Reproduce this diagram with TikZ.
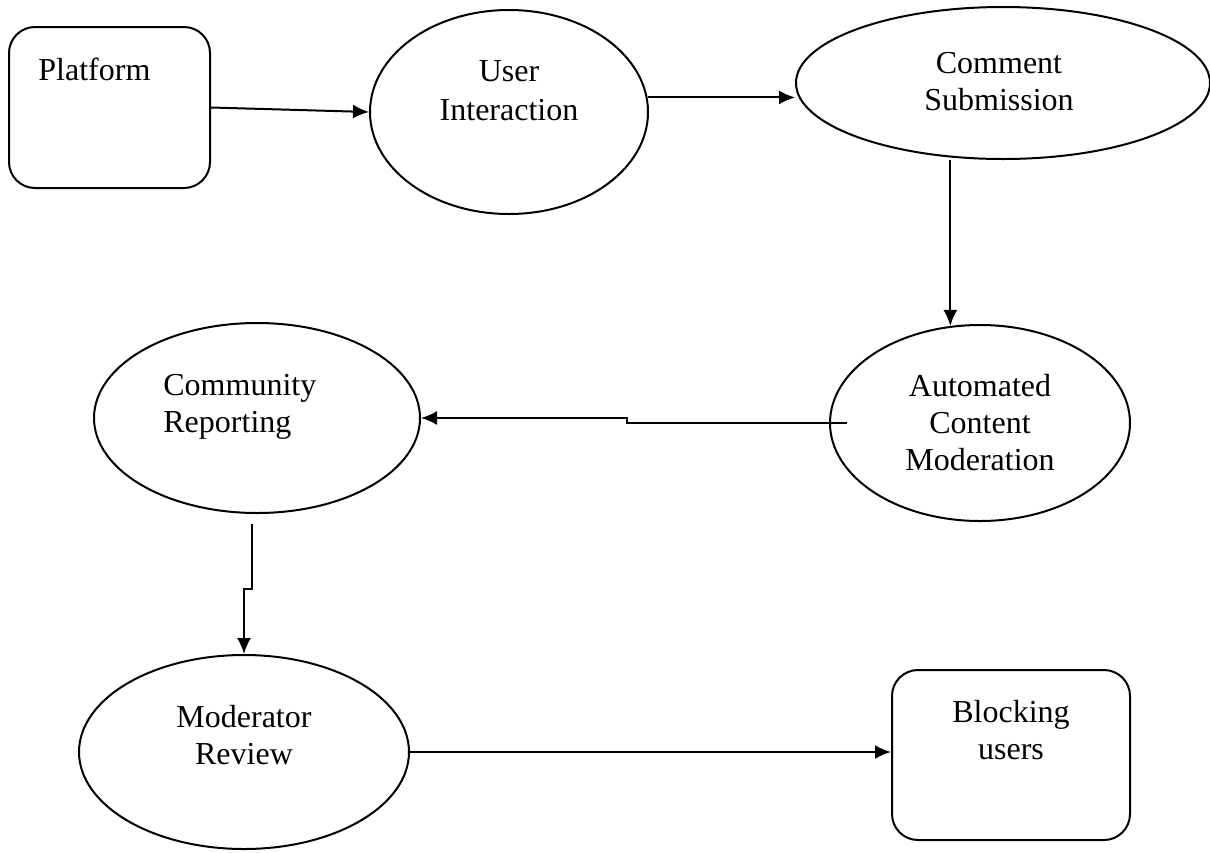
\documentclass[tikz,border=0pt]{standalone}
\usepackage{fontspec}
\setmainfont{Liberation Serif}
\usetikzlibrary{shapes.geometric,arrows.meta}
\begin{document}
\begin{tikzpicture}[x=0.5pt,y=-0.5pt,
  box/.style={draw,line width=1pt,rounded corners=13pt,inner sep=0pt},
  bubble/.style={draw,line width=1pt,ellipse,inner sep=0pt},
  lbl/.style={inner sep=0pt,align=center,font=\fontsize{16}{18.5}\selectfont},
  flow/.style={-{Latex[length=8pt,width=7pt]},line width=1pt}]
\useasboundingbox (0,0) rectangle (1210,852);
% shapes
\node[box,minimum width=100.5pt,minimum height=80.5pt] (platform) at (109.5,107.5) {};
\node[bubble,minimum width=139pt,minimum height=102pt] (user) at (509,112) {};
\node[bubble,minimum width=207pt,minimum height=76pt] (comment) at (1003,83) {};
\node[bubble,minimum width=150pt,minimum height=98pt] (auto) at (980,423) {};
\node[bubble,minimum width=163pt,minimum height=95pt] (comm) at (257,418) {};
\node[bubble,minimum width=165pt,minimum height=97pt] (mod) at (244,752) {};
\node[box,minimum width=119pt,minimum height=85pt] (block) at (1011,755) {};
% texts
\node[lbl,anchor=north west] (platformtxt) at (38,58) {Platform};
\node[lbl,anchor=north,font=\fontsize{16}{19.5}\selectfont] (usertxt) at (509,60) {User\\Interaction};
\node[lbl,anchor=north] (commenttxt) at (999,52) {Comment\\Submission};
\node[lbl,anchor=north] (autotxt) at (980,374) {Automated\\Content\\Moderation};
\node[lbl,anchor=north west,align=left] (commtxt) at (163,374) {Community\\Reporting};
\node[lbl,anchor=north] (modtxt) at (244,705) {Moderator\\Review};
\node[lbl,anchor=north] (blocktxt) at (1011,700) {Blocking\\users};
% connectors
\draw[flow] (platform.east) -- (user.west);
\draw[flow] (user.6) -- (user.6 -| comment.west);
\draw[flow] (auto.107 |- comment.south) -- (auto.107);
\draw[flow] ([xshift=9pt]auto.west) -- ++(-110pt,0pt) |- (comm.east);
\draw[flow] ([xshift=-2.5pt,yshift=-5pt]comm.south) -- ++(0pt,-32.5pt) -| (mod.north);
\draw[flow] (mod.east) -- (mod.east -| block.west);
\end{tikzpicture}
\end{document}
